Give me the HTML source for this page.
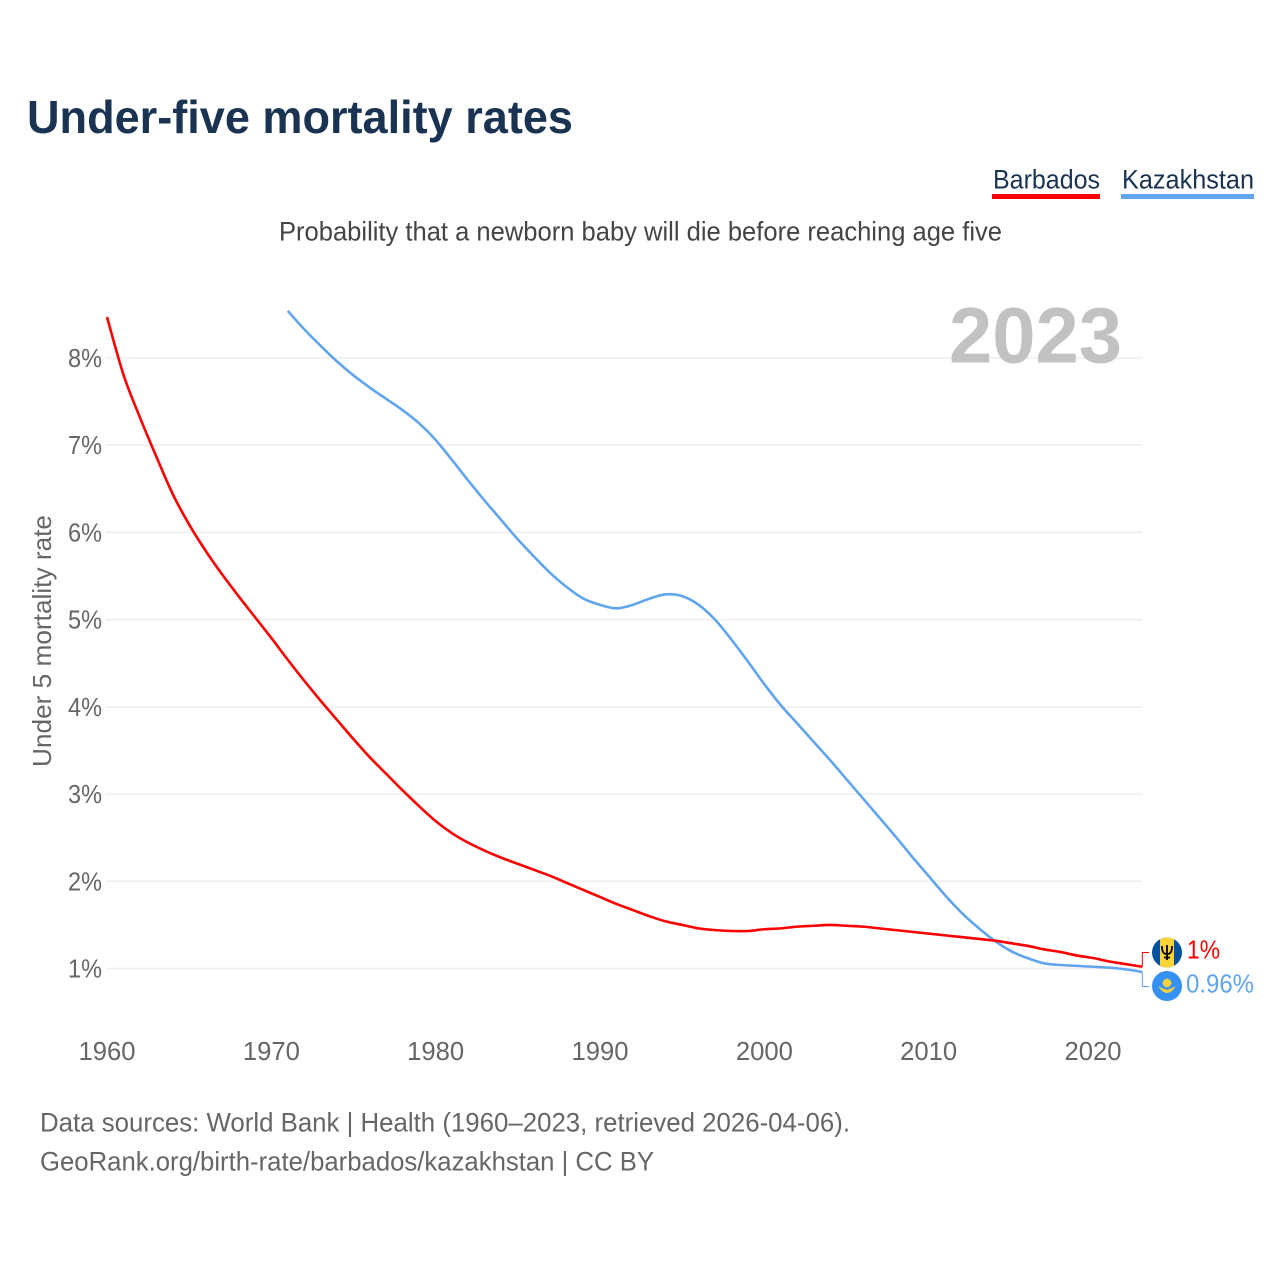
<!DOCTYPE html>
<html lang="en">
<head>
<meta charset="utf-8">
<title>Under-five mortality rates</title>
<style>
html,body{margin:0;padding:0;background:#fff;}
svg{display:block;font-family:"Liberation Sans",sans-serif;}
</style>
</head>
<body>
<svg id="chart" width="1280" height="1280" viewBox="0 0 1280 1280" xmlns="http://www.w3.org/2000/svg">
  <rect x="0" y="0" width="1280" height="1280" fill="#ffffff"/>
  <text x="27" y="133" font-size="46" font-weight="700" fill="#1a3353" textLength="546" lengthAdjust="spacingAndGlyphs">Under-five mortality rates</text>
  <g>
    <text x="993" y="188.500" font-size="27" fill="#1a3353" textLength="107" lengthAdjust="spacingAndGlyphs">Barbados</text>
    <rect x="992" y="194" width="108" height="5" fill="#ff0000"/>
  </g>
  <g>
    <text x="1122" y="188.500" font-size="27" fill="#1a3353" textLength="132" lengthAdjust="spacingAndGlyphs">Kazakhstan</text>
    <rect x="1121" y="194" width="133" height="5" fill="#60a5ee"/>
  </g>
  <text x="279" y="240.500" font-size="27" fill="#444444" textLength="723" lengthAdjust="spacingAndGlyphs">Probability that a newborn baby will die before reaching age five</text>
  <g id="grid"></g>
  <g id="yticks"></g>
  <g id="xticks"></g>
  <text transform="translate(51,767) rotate(-90)" x="0" y="0" font-size="26" fill="#666666" textLength="252" lengthAdjust="spacingAndGlyphs">Under 5 mortality rate</text>
  <text x="949" y="362.500" font-size="79" font-weight="700" fill="#bfbfbf" fill-opacity="0.95" textLength="173" lengthAdjust="spacingAndGlyphs">2023</text>
  <g id="series"></g>
  <g id="connectors"></g>
  <g>
    <circle cx="1167" cy="952.5" r="15" fill="#00529f"/>
    <path d="M1160 939.2 A15 15 0 0 1 1174 939.2 V965.8 A15 15 0 0 1 1160 965.8 Z" fill="#ffd338"/>
    <path d="M1162 946 C1162 952 1163.5 954 1167 954 C1170.5 954 1172 952 1172 946 M1167 945 V960 M1164 957.5 H1170" fill="none" stroke="#000000" stroke-width="1.8"/>
  </g>
  <g>
    <circle cx="1167" cy="986" r="15" fill="#3591f5"/>
    <circle cx="1167" cy="983" r="3.8" fill="#ffd338" stroke="#ffd338" stroke-width="1.6" stroke-dasharray="1.2 1"/>
    <path d="M1158.500 986 C1162 988.500 1164 988.500 1167 990 C1170 988.500 1172 988.500 1175.500 986 C1173.500 990.500 1170.500 992.500 1167 993 C1163.500 992.500 1160.500 990.500 1158.500 986 Z" fill="#ffd338"/>
  </g>
  <g id="endlabels"></g>
  <text x="40" y="1131.500" font-size="27" fill="#666666" textLength="810" lengthAdjust="spacingAndGlyphs">Data sources: World Bank | Health (1960–2023, retrieved 2026-04-06).</text>
  <text x="40" y="1170.500" font-size="27" fill="#666666" textLength="614" lengthAdjust="spacingAndGlyphs">GeoRank.org/birth-rate/barbados/kazakhstan | CC BY</text>
</svg>
<script>
const barbadosStartYear = 1960;
const barbadosValues = [8.47,7.81,7.32,6.87,6.44,6.09,5.79,5.52,5.27,5.03,4.79,4.54,4.30,4.07,3.85,3.63,3.42,3.23,3.04,2.86,2.69,2.55,2.44,2.35,2.27,2.20,2.13,2.06,1.98,1.90,1.82,1.74,1.67,1.60,1.54,1.50,1.46,1.44,1.43,1.43,1.45,1.46,1.48,1.49,1.50,1.49,1.48,1.46,1.44,1.42,1.40,1.38,1.36,1.34,1.32,1.29,1.26,1.22,1.19,1.15,1.12,1.08,1.05,1.02];
const kazakhstanStartYear = 1971;
const kazakhstanValues = [8.54,8.33,8.14,7.96,7.80,7.66,7.53,7.40,7.25,7.06,6.83,6.59,6.36,6.14,5.92,5.72,5.53,5.37,5.24,5.17,5.13,5.17,5.24,5.29,5.27,5.17,5.00,4.77,4.52,4.26,4.02,3.81,3.60,3.39,3.17,2.95,2.73,2.51,2.28,2.06,1.84,1.64,1.47,1.32,1.20,1.12,1.06,1.04,1.03,1.02,1.01,0.99,0.96];
const yTickValues = [1,2,3,4,5,6,7,8];
const xTickValues = [1960,1970,1980,1990,2000,2010,2020];
const barbadosEndLabel = "1%";
const kazakhstanEndLabel = "0.96%";

const NS = "http://www.w3.org/2000/svg";
function xScale(year){ return 107 + (year - 1960) * (986 / 60); }
function yScale(v){ return 968.5 - (v - 1) * (610.5 / 7); }
function make(tag, attrs, parent){
  const el = document.createElementNS(NS, tag);
  for (const k in attrs) el.setAttribute(k, attrs[k]);
  parent.appendChild(el);
  return el;
}

const gridG = document.getElementById("grid");
const yG = document.getElementById("yticks");
yTickValues.forEach(function(v){
  const line = make("line", {x1:106, x2:1142, y1:yScale(v), y2:yScale(v), stroke:"#eeeeee", "stroke-width":1.5}, gridG);
  
  
  const label = make("text", {x:68, y:yScale(v)+9, "font-size":26, fill:"#666666", textLength:34, lengthAdjust:"spacingAndGlyphs"}, yG);
  
  
  label.textContent = v + "%";
});

const xG = document.getElementById("xticks");
xTickValues.forEach(function(year){
  const label = make("text", {x:xScale(year)-28.5, y:1060, "font-size":26, fill:"#666666", textLength:57, lengthAdjust:"spacingAndGlyphs"}, xG);
  
  
  label.textContent = year;
});

function linePath(values, startYear){
  const pts = values.map(function(v, i){ return [xScale(startYear + i), yScale(v)]; });
  let d = "M" + pts[0][0].toFixed(2) + " " + pts[0][1].toFixed(2);
  for (let i = 0; i < pts.length - 1; i++) {
    const p0 = pts[Math.max(i - 1, 0)];
    const p1 = pts[i];
    const p2 = pts[i + 1];
    const p3 = pts[Math.min(i + 2, pts.length - 1)];
    const c1x = p1[0] + (p2[0] - p0[0]) / 6;
    const c1y = p1[1] + (p2[1] - p0[1]) / 6;
    const c2x = p2[0] - (p3[0] - p1[0]) / 6;
    const c2y = p2[1] - (p3[1] - p1[1]) / 6;
    d += "C" + c1x.toFixed(2) + " " + c1y.toFixed(2) + " " + c2x.toFixed(2) + " " + c2y.toFixed(2) + " " + p2[0].toFixed(2) + " " + p2[1].toFixed(2);
  }
  return d;
}
const seriesG = document.getElementById("series");
const kazLine = make("path", {d:linePath(kazakhstanValues, kazakhstanStartYear), fill:"none", stroke:"#60a5ee", "stroke-width":2.6, "stroke-linejoin":"round"}, seriesG);


const barLine = make("path", {d:linePath(barbadosValues, barbadosStartYear), fill:"none", stroke:"#ff0000", "stroke-width":2.6, "stroke-linejoin":"round"}, seriesG);



const connG = document.getElementById("connectors");
const lastX = xScale(2023);
const barEndY = yScale(barbadosValues[barbadosValues.length - 1]);
const kazEndY = yScale(kazakhstanValues[kazakhstanValues.length - 1]);
const barConn = make("polyline", {points:lastX+","+barEndY+" "+lastX+",952.5 1149,952.5", fill:"none", stroke:"#ff0000", "stroke-width":1}, connG);


const kazConn = make("polyline", {points:lastX+","+kazEndY+" "+lastX+",986.5 1149,986.5", fill:"none", stroke:"#60a5ee", "stroke-width":1}, connG);



const endG = document.getElementById("endlabels");
const barLabel = make("text", {x:1187, y:958.5, "font-size":26, fill:"#ff0000", textLength:33, lengthAdjust:"spacingAndGlyphs"}, endG);


barLabel.textContent = barbadosEndLabel;
const kazLabel = make("text", {x:1186, y:992.5, "font-size":26, fill:"#60a5ee", textLength:68, lengthAdjust:"spacingAndGlyphs"}, endG);


kazLabel.textContent = kazakhstanEndLabel;
</script>
</body>
</html>
